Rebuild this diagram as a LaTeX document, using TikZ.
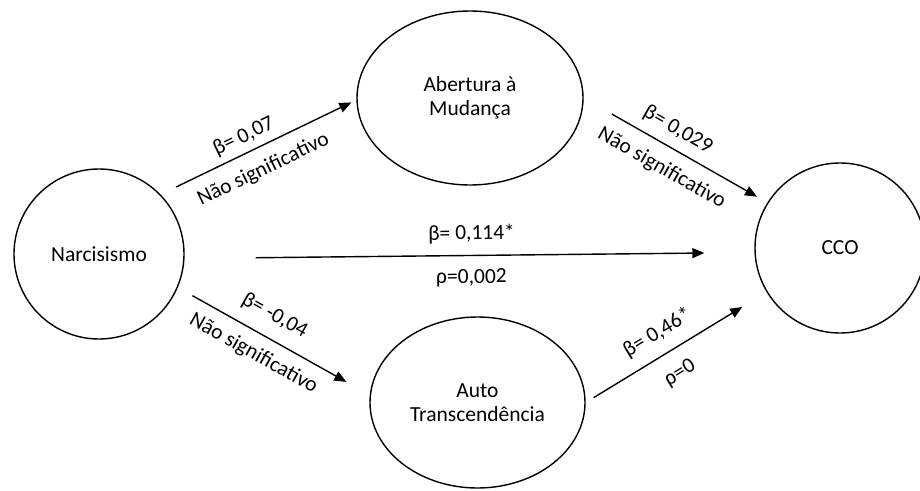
\documentclass[tikz,border=0pt]{standalone}
\usepackage{fontspec}
\setmainfont{Carlito}
\usetikzlibrary{shapes.geometric,arrows.meta}
\begin{document}
\begin{tikzpicture}[x=1pt,y=-1pt,
  every node/.style={font=\fontsize{21.5}{24.5}\selectfont},
  construct/.style={draw, line width=1.4pt, ellipse, inner sep=0pt, align=center},
  effect/.style={line width=1.4pt, -{Triangle[length=12pt,width=10pt]}},
  coef/.style={sloped, inner sep=0pt, text height=15pt, text depth=5pt}
]
\useasboundingbox (0,0) rectangle (920,490);

% constructs of the model
\node[construct, minimum width=170pt, minimum height=170pt] (narc) at (99,254) {Narcisismo};
\node[construct, minimum width=226pt, minimum height=174pt] (abert) at (470,98) {Abertura à\\Mudança};
\node[construct, minimum width=215pt, minimum height=171pt] (auto) at (477.5,402.5) {Auto\\Transcendência};
\node[construct, minimum width=170pt, minimum height=170pt] (cco) at (840,248) {CCO};

% paths with their coefficients
\draw[effect, shorten <=17.1pt, shorten >=5.6pt] (narc.44.6) -- (abert.181.3)
  node[coef, pos=.46, above=4.7pt] {β= 0,07}
  node[coef, pos=.475, below=12.3pt] {Não significativo};
\draw[effect, shorten <=32.4pt, shorten >=11.9pt] (abert.0.66) -- (cco.148.8)
  node[coef, pos=.462, above=7.6pt] {β= 0,029}
  node[coef, pos=.485, below=12.3pt] {Não significativo};
\draw[effect, shorten <=16.7pt, shorten >=26.8pt] (narc.337.4) -- (auto.176.6)
  node[coef, pos=.446, above=11.4pt] {β= -0,04}
  node[coef, pos=.447, below=10.5pt] {Não significativo};
\draw[effect, shorten <=9.3pt, shorten >=28.5pt] (auto.0.37) -- (cco.211.4)
  node[coef, pos=.46, above=10.3pt] {β= 0,46*}
  node[coef, pos=.452, below=13.5pt] {ρ=0};
\draw[effect, shorten <=71.1pt, shorten >=50.1pt] (narc.357.55) -- (cco.183.07)
  node[coef, pos=.504, above=10.1pt] {β= 0,114*}
  node[coef, pos=.503, below=12pt] {ρ=0,002};
\end{tikzpicture}
\end{document}
